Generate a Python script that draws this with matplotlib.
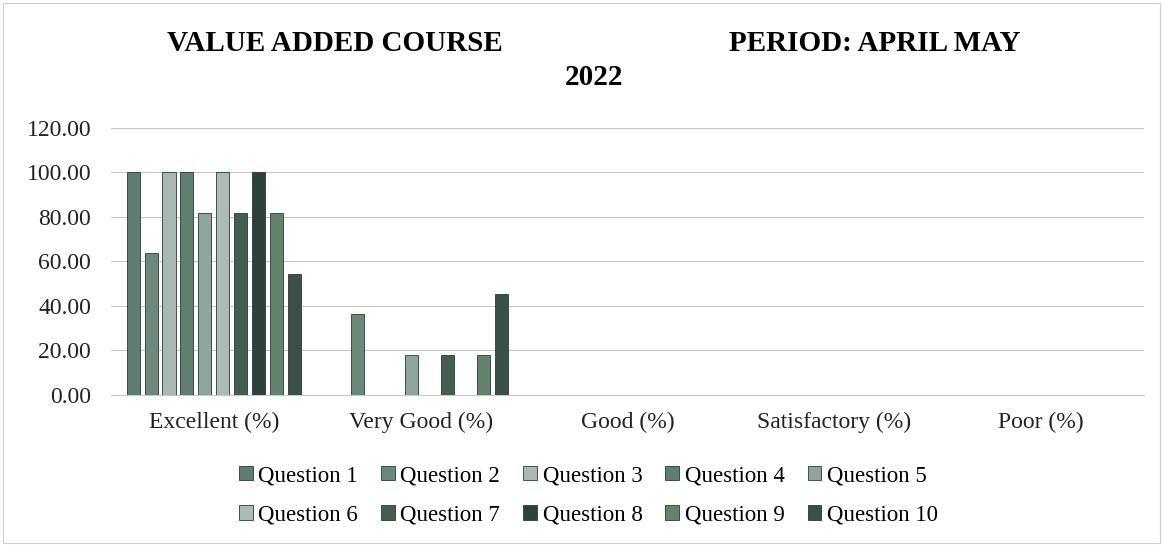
import numpy as np
import matplotlib.pyplot as plt
from matplotlib.patches import Rectangle

categories = ["Excellent (%)", "Very Good (%)", "Good (%)", "Satisfactory (%)", "Poor (%)"]
questions = ["Question {}".format(i) for i in range(1, 11)]

# rows = questions, cols = rating categories
q_values = [
    [100.00, 0.00, 0.00, 0.00, 0.00],
    [63.64, 36.36, 0.00, 0.00, 0.00],
    [100.00, 0.00, 0.00, 0.00, 0.00],
    [100.00, 0.00, 0.00, 0.00, 0.00],
    [81.82, 18.18, 0.00, 0.00, 0.00],
    [100.00, 0.00, 0.00, 0.00, 0.00],
    [81.82, 18.18, 0.00, 0.00, 0.00],
    [100.00, 0.00, 0.00, 0.00, 0.00],
    [81.82, 18.18, 0.00, 0.00, 0.00],
    [54.55, 45.45, 0.00, 0.00, 0.00],
]

colors = ["#5f7d70", "#6b887b", "#a9b9b1", "#617f71", "#8fa79b",
          "#abbcb4", "#435d51", "#2f4239", "#64836f", "#3b5047"]

plt.rcParams['font.family'] = ['Liberation Serif', 'DejaVu Serif']

fig = plt.figure(figsize=(11.63, 5.46), dpi=100)
ax = fig.add_axes([0.0951, 0.2766, 0.8887, 0.489])

x = np.arange(len(categories))
step = 0.087
width = 0.063
bars = []
for i in range(len(questions)):
    offset = (i - 4.5) * step
    b = ax.bar(x + offset, q_values[i], width, color=colors[i], edgecolor="#2a3a33",
               linewidth=0.6, label=questions[i], zorder=3)
    bars.append(b)

ax.set_xlim(-0.5, len(categories) - 0.5)
ax.set_ylim(0, 120)
ax.set_yticks(np.arange(0, 121, 20))
ax.set_yticklabels(["{:.2f}".format(v) for v in np.arange(0, 121, 20)])
ax.set_xticks(x)
ax.set_xticklabels(categories)
ax.tick_params(axis='both', length=0, labelsize=17, colors="#222222")
ax.tick_params(axis='x', pad=12)
ax.tick_params(axis='y', pad=14)
ax.grid(axis='y', color="#c8c8c8", linewidth=0.8, zorder=0)
for s in ["top", "right", "left"]:
    ax.spines[s].set_visible(False)
ax.spines["bottom"].set_color("#c8c8c8")

fig.text(0.288, 0.921, "VALUE ADDED COURSE", ha="center", va="center",
         fontsize=21, fontweight="bold")
fig.text(0.752, 0.921, "PERIOD: APRIL MAY", ha="center", va="center",
         fontsize=21, fontweight="bold")
fig.text(0.511, 0.858, "2022", ha="center", va="center",
         fontsize=21, fontweight="bold")

# matplotlib fills legend columns first, reorder so rows read 1-5, 6-10
order = [0, 5, 1, 6, 2, 7, 3, 8, 4, 9]
fig.legend([bars[k] for k in order], [questions[k] for k in order],
           loc="center", bbox_to_anchor=(0.506, 0.093), ncol=5, frameon=False,
           fontsize=16.5, handlelength=0.6, handleheight=0.6, handletextpad=0.25,
           columnspacing=1.0, labelspacing=0.8)

fig.patches.append(Rectangle((0.003, 0.005), 0.994, 0.99, transform=fig.transFigure,
                             fill=False, edgecolor="#d0d0d0", linewidth=0.8))

fig.savefig("out.png", dpi=100)
